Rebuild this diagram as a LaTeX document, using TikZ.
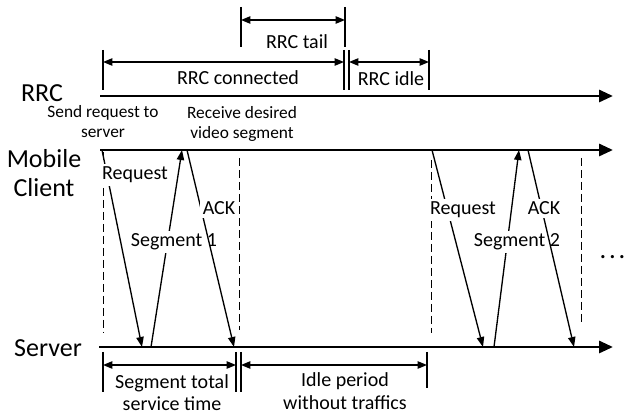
\documentclass[tikz,border=0pt]{standalone}
\usepackage{fontspec}
\setmainfont{Carlito}
\usetikzlibrary{arrows.meta}

\begin{document}
\begin{tikzpicture}
 [x=0.75pt, y=-0.75pt,
  axis line/.style={line width=2.2pt, -{Triangle[length=10.5pt,width=9pt]}},
  msg line/.style={line width=1pt, -{Triangle[length=7.5pt,width=5.5pt]}},
  span line/.style={line width=1pt, {Triangle[length=7pt,width=5.5pt]}-{Triangle[length=7pt,width=5.5pt]}},
  mark line/.style={line width=1pt},
  gap line/.style={line width=0.7pt, dash pattern=on 6pt off 3pt},
  big label/.style={font=\fontsize{19.5}{22}\selectfont, align=center, inner sep=0pt},
  mid label/.style={font=\fontsize{15}{17}\selectfont, align=center, inner sep=0pt},
  msg label/.style={font=\fontsize{15}{17}\selectfont, fill=white, inner sep=2pt},
  small label/.style={font=\fontsize{13}{15}\selectfont, align=center, inner sep=0pt}]

\useasboundingbox (0,0) rectangle (625,416);

% the three time axes
\coordinate (rrc0) at (100,96);  \coordinate (rrc1) at (613,96);
\coordinate (cli0) at (100,150); \coordinate (cli1) at (613,150);
\coordinate (srv0) at (99,347);  \coordinate (srv1) at (613,347);

\node[big label] (rrc) at (42,93.5) {RRC};
\node[big label] (mobile) at (44,173) {Mobile\\Client};
\node[big label] (server) at (48,348.5) {Server};

\draw[axis line] (rrc0) -- (rrc1);
\draw[axis line] (cli0) -- (cli1);
\draw[axis line] (srv0) -- (srv1);

% RRC states
\coordinate (tail0) at (241,20);  \coordinate (tail1) at (345,20);
\coordinate (conn0) at (103,62);  \coordinate (conn1) at (344,62);
\coordinate (idle0) at (349,62);  \coordinate (idle1) at (429,62);

\draw[mark line] (tail0) ++(0,-13) -- ++(0,40);
\draw[mark line] (tail1) ++(0,-13) -- ++(0,40);
\draw[mark line] (conn0) ++(0,-12) -- ++(0,40);
\draw[mark line] (conn1) ++(0,-12) -- ++(0,40);
\draw[mark line] (idle0) ++(0,-12) -- ++(0,40);
\draw[mark line] (idle1) ++(0,-12) -- ++(0,40);

\path
  (tail0) edge[span line] (tail1)
  (conn0) edge[span line] (conn1)
  (idle0) edge[span line] (idle1);

\node[mid label] (tail) at (297,41.5) {RRC tail};
\node[mid label] (conn) at (238,77.5) {RRC connected};
\node[mid label] (idle) at (391,79) {RRC idle};

\node[small label] (send) at (103,121.5) {Send request to\\server};
\node[small label] (recv) at (242,123.5) {Receive desired\\video segment};

% request / segment / ack
\coordinate (req1c) at (102,150); \coordinate (req1s) at (142,347);
\coordinate (seg1s) at (151,347); \coordinate (seg1c) at (182,150);
\coordinate (ack1c) at (187,150); \coordinate (ack1s) at (234,347);
\coordinate (req2c) at (432,150); \coordinate (req2s) at (483,347);
\coordinate (seg2s) at (494,347); \coordinate (seg2c) at (519,150);
\coordinate (ack2c) at (528,150); \coordinate (ack2s) at (574,347);

\draw[gap line] (103,152) -- (103,333);
\draw[gap line] (239,158) -- (239,330);
\draw[gap line] (431,160) -- (431,333);
\draw[gap line] (581,158) -- (581,323);

\draw[msg line] (req1c) -- (req1s);
\node[msg label] (req1) at (135,175) {Request};
\draw[msg line] (seg1s) -- (seg1c);
\node[msg label] (seg1) at (174,242) {Segment 1};
\draw[msg line] (ack1c) -- (ack1s);
\node[msg label] (ack1) at (219,208.5) {ACK};

\draw[msg line] (req2c) -- (req2s);
\node[msg label] (req2) at (463,210) {Request};
\draw[msg line] (seg2s) -- (seg2c);
\node[msg label] (seg2) at (517,242) {Segment 2};
\draw[msg line] (ack2c) -- (ack2s);
\node[msg label] (ack2) at (544,208.5) {ACK};

\node[inner sep=0pt, font=\fontsize{20}{22}\selectfont] (more) at (612.5,257) {.\kern2.1pt.\kern2.1pt.};

% service and idle periods
\coordinate (serv0) at (103,365); \coordinate (serv1) at (236,365);
\coordinate (wait0) at (241,365); \coordinate (wait1) at (427,365);

\draw[mark line] (serv0) ++(0,-13) -- ++(0,40);
\draw[mark line] (serv1) ++(0,-13) -- ++(0,40);
\draw[mark line] (wait0) ++(0,-13) -- ++(0,40);
\draw[mark line] (wait1) ++(0,-13) -- ++(0,36);

\path
  (serv0) edge[span line] (serv1)
  (wait0) edge[span line] (wait1);

\node[mid label] (servtime) at (172,392.5) {Segment total\\service time};
\node[mid label] (idletime) at (345,391) {Idle period\\without traffics};

\end{tikzpicture}
\end{document}
